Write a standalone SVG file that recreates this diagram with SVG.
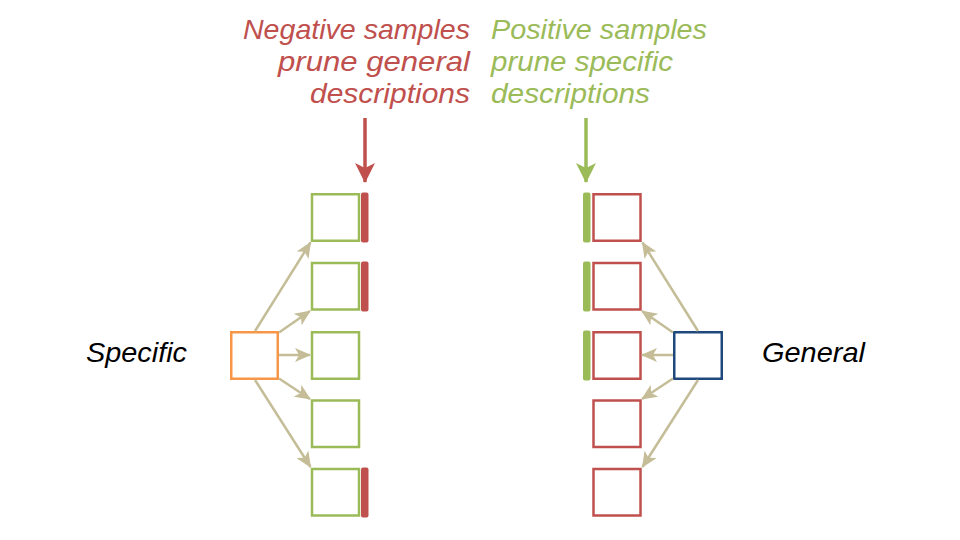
<svg xmlns="http://www.w3.org/2000/svg" width="960" height="540" viewBox="0 0 960 540">
<style>
.t{font-family:"Liberation Sans",Arial,sans-serif;font-style:italic;font-size:28px}
.neg{fill:#C0504D}
.pos{fill:#9BBB59}
.lbl{fill:#000}
.gbox{fill:#fff;stroke:#9BBB59;stroke-width:2.5}
.rbox{fill:#fff;stroke:#C0504D;stroke-width:2.5}
.rbar{fill:#C0504D}
.gbar{fill:#9BBB59}
.con{stroke:#C4BD97;stroke-width:2.5;fill:none;marker-end:url(#tan)}
</style>
<defs>
<marker id="tan" markerUnits="userSpaceOnUse" markerWidth="16" markerHeight="14" viewBox="0 0 16 14" refX="15" refY="7" orient="auto">
<path d="M0,0 L16,7 L0,14 L4,7 Z" fill="#C4BD97"/>
</marker>
<marker id="redh" markerUnits="userSpaceOnUse" markerWidth="20" markerHeight="20" viewBox="0 0 20 20" refX="19" refY="10" orient="auto">
<path d="M0,0 L20,10 L0,20 L5,10 Z" fill="#C0504D"/>
</marker>
<marker id="greenh" markerUnits="userSpaceOnUse" markerWidth="20" markerHeight="20" viewBox="0 0 20 20" refX="19" refY="10" orient="auto">
<path d="M0,0 L20,10 L0,20 L5,10 Z" fill="#9BBB59"/>
</marker>
</defs>
<rect width="960" height="540" fill="#fff"/>

<g id="neg-label">
<text class="t neg" text-anchor="end" x="470" y="39" textLength="227" lengthAdjust="spacingAndGlyphs">Negative samples</text>
<text class="t neg" text-anchor="end" x="470" y="71" textLength="192" lengthAdjust="spacingAndGlyphs">prune general</text>
<text class="t neg" text-anchor="end" x="470" y="103" textLength="160" lengthAdjust="spacingAndGlyphs">descriptions</text>
</g>
<g id="pos-label">
<text class="t pos" x="491" y="39" textLength="216" lengthAdjust="spacingAndGlyphs">Positive samples</text>
<text class="t pos" x="491" y="71" textLength="182" lengthAdjust="spacingAndGlyphs">prune specific</text>
<text class="t pos" x="491" y="103" textLength="159" lengthAdjust="spacingAndGlyphs">descriptions</text>
</g>
<g id="specific-label"><text class="t lbl" x="86" y="362" font-size="26" textLength="101" lengthAdjust="spacingAndGlyphs">Specific</text></g>
<g id="general-label"><text class="t lbl" x="762" y="362" font-size="26" textLength="103" lengthAdjust="spacingAndGlyphs">General</text></g>

<g id="specific-node"><rect x="231.25" y="332.25" width="46.5" height="46.5" fill="#fff" stroke="#F79646" stroke-width="2.5"/></g>
<g id="general-node"><rect x="674.25" y="332.25" width="47.5" height="46.5" fill="#fff" stroke="#1F497D" stroke-width="2.5"/></g>

<g id="left-col">
<g id="L1"><rect class="gbox" x="312" y="194.25" width="47" height="46.5"/><rect class="rbar" x="361" y="192.5" width="7.5" height="50" rx="2"/></g>
<g id="L2"><rect class="gbox" x="312" y="263" width="47" height="46.5"/><rect class="rbar" x="361" y="261.5" width="7.5" height="50" rx="2"/></g>
<g id="L3"><rect class="gbox" x="312" y="332.25" width="47" height="46.5"/></g>
<g id="L4"><rect class="gbox" x="312" y="400.5" width="47" height="46.5"/></g>
<g id="L5"><rect class="gbox" x="312" y="469" width="47" height="46.5"/><rect class="rbar" x="361" y="467.5" width="7.5" height="50" rx="2"/></g>
</g>

<g id="right-col">
<g id="R1"><rect class="rbox" x="593.5" y="194.25" width="47" height="46.5"/><rect class="gbar" x="583" y="192.5" width="7.5" height="50" rx="2"/></g>
<g id="R2"><rect class="rbox" x="593.5" y="263" width="47" height="46.5"/><rect class="gbar" x="583" y="261.5" width="7.5" height="50" rx="2"/></g>
<g id="R3"><rect class="rbox" x="593.5" y="332.25" width="47" height="46.5"/><rect class="gbar" x="583" y="330.5" width="7.5" height="50" rx="2"/></g>
<g id="R4"><rect class="rbox" x="593.5" y="400.5" width="47" height="46.5"/></g>
<g id="R5"><rect class="rbox" x="593.5" y="469" width="47" height="46.5"/></g>
</g>

<g id="connectors">
<line class="con" x1="255" y1="331" x2="310.5" y2="242.5"/>
<line class="con" x1="279" y1="332.5" x2="310" y2="311"/>
<line class="con" x1="279" y1="355" x2="310" y2="355"/>
<line class="con" x1="279" y1="378.5" x2="310" y2="399"/>
<line class="con" x1="255" y1="380" x2="310.5" y2="467"/>
<line class="con" x1="698" y1="331" x2="642.5" y2="242.5"/>
<line class="con" x1="673" y1="332.5" x2="642" y2="311"/>
<line class="con" x1="673" y1="355" x2="642" y2="355"/>
<line class="con" x1="673" y1="378.5" x2="642" y2="399"/>
<line class="con" x1="698" y1="380" x2="642.5" y2="467"/>
<line x1="365" y1="118" x2="365" y2="182" stroke="#C0504D" stroke-width="3.5" marker-end="url(#redh)"/>
<line x1="586" y1="118" x2="586" y2="182" stroke="#9BBB59" stroke-width="3.5" marker-end="url(#greenh)"/>
</g>
</svg>
